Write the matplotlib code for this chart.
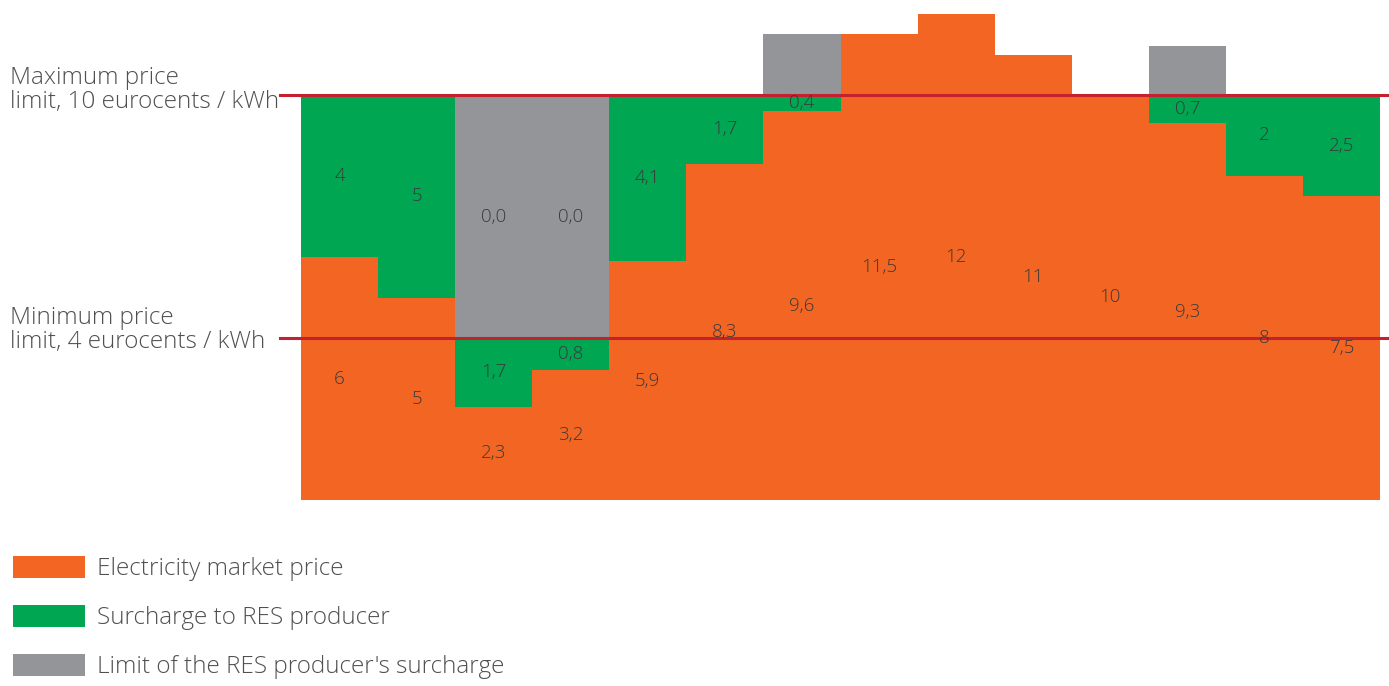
import matplotlib.pyplot as plt
import numpy as np

plt.rcParams['font.family'] = ['Open Sans', 'DejaVu Sans']
plt.rcParams['font.weight'] = 'light'

# Hourly market price and RES surcharge, eurocents / kWh
hours = np.arange(14)
market_price = [6, 5, 2.3, 3.2, 5.9, 8.3, 9.6, 11.5, 12, 11, 10, 9.3, 8, 7.5]
surcharge = [4, 5, 1.7, 0.8, 4.1, 1.7, 0.4, 0, 0, 0, 0, 0.7, 2, 2.5]
surcharge_limit = [0, 0, 6, 6, 0, 0, 1.5, 0, 0, 0, 0, 1.2, 0, 0]
limit_labels = ['', '', '0,0', '0,0', '', '', '', '', '', '', '', '', '', '']
price_max = 10
price_min = 4

orange = '#f26522'
green = '#00a651'
grey = '#939598'
red = '#c4202e'
text_col = '#505050'
num_col = '#3a3a3a'


def fmt(v):
    return f"{v:g}".replace('.', ',')


fig = plt.figure(figsize=(13.89, 6.86), dpi=100)
ax = fig.add_axes([279 / 1389, 1 - 500 / 686, 1110 / 1389, 500 / 686])

price = np.array(market_price)
extra = np.array(surcharge)
limit = np.array(surcharge_limit)

b1 = ax.bar(hours, price, width=1, color=orange, linewidth=0,
            label='Electricity market price')
b2 = ax.bar(hours, extra, bottom=price, width=1, color=green, linewidth=0,
            label='Surcharge to RES producer')
b3 = ax.bar(hours, limit, bottom=price + extra, width=1, color=grey, linewidth=0,
            label="Limit of the RES producer's surcharge")

# price limits
ax.axhline(price_max, color=red, lw=2.2, zorder=3)
ax.axhline(price_min, color=red, lw=2.2, zorder=3)

# value labels in the middle of each segment
for i in hours:
    ax.text(i, price[i] / 2, fmt(price[i]), ha='center', va='center',
            fontsize=13.5, color=num_col, zorder=4)
    if extra[i] > 0:
        ax.text(i, price[i] + extra[i] / 2, fmt(extra[i]), ha='center',
                va='center', fontsize=13.5, color=num_col, zorder=4)
    if limit_labels[i]:
        ax.text(i, price[i] + extra[i] + limit[i] / 2, limit_labels[i],
                ha='center', va='center', fontsize=13.5, color=num_col, zorder=4)

ax.set_xlim(-0.5 - 22 / 77.07, 13.5 + 9 / 77.07)
ax.set_ylim(0, 500 / 40.5)
ax.axis('off')

fig.text(10 / 1389, 1 - 90 / 686, "Maximum price\nlimit, 10 eurocents / kWh",
         ha='left', va='center', fontsize=17.5, color=text_col, linespacing=1.02)
fig.text(10 / 1389, 1 - 330 / 686, "Minimum price\nlimit, 4 eurocents / kWh",
         ha='left', va='center', fontsize=17.5, color=text_col, linespacing=1.02)

fig.legend(handles=[b1, b2, b3], loc='upper left',
           bbox_to_anchor=(13 / 1389, 1 - 556 / 686), frameon=False,
           fontsize=17.5, labelcolor=text_col, handlelength=2.95,
           handleheight=1.0, handletextpad=0.52, labelspacing=0.98,
           borderpad=0, borderaxespad=0)

fig.savefig('out.png', dpi=100)
